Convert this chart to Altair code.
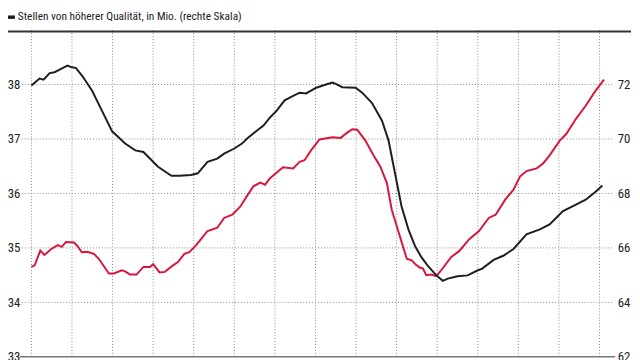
import altair as alt
import pandas as pd

# ---- data (x = years since start of series, y = millions) ----
red_t = [0.00, 0.08, 0.22, 0.32, 0.49, 0.65, 0.75, 0.85, 1.05, 1.13, 1.24, 1.38, 1.54, 1.66,
         1.91, 2.03, 2.23, 2.31, 2.43, 2.59, 2.76, 2.92, 3.00, 3.16, 3.29, 3.49, 3.61, 3.77,
         3.89, 4.05, 4.18, 4.34, 4.58, 4.75, 4.95, 5.15, 5.31, 5.47, 5.64, 5.76, 5.88, 6.20,
         6.45, 6.61, 6.73, 6.89, 7.10, 7.42, 7.62, 7.79, 7.91, 8.03, 8.23, 8.43, 8.60, 8.76,
         8.88, 9.04, 9.25, 9.37, 9.45, 9.57, 9.65, 9.73, 9.85, 9.98, 10.10, 10.34, 10.54,
         10.79, 11.03, 11.27, 11.44, 11.68, 11.88, 12.04, 12.20, 12.45, 12.61, 12.77, 13.02,
         13.18, 13.42, 13.66, 13.87, 14.11]
red_v = [34.65, 34.68, 34.95, 34.87, 34.98, 35.05, 35.02, 35.11, 35.10, 35.04, 34.92, 34.93,
         34.89, 34.80, 34.53, 34.53, 34.59, 34.57, 34.51, 34.51, 34.65, 34.65, 34.70, 34.55,
         34.56, 34.68, 34.74, 34.89, 34.92, 35.04, 35.16, 35.31, 35.37, 35.55, 35.61, 35.76,
         35.95, 36.13, 36.20, 36.16, 36.28, 36.48, 36.46, 36.58, 36.61, 36.79, 36.99, 37.03,
         37.02, 37.12, 37.18, 37.17, 36.97, 36.70, 36.49, 36.19, 35.70, 35.31, 34.80, 34.77,
         34.71, 34.64, 34.62, 34.50, 34.51, 34.48, 34.59, 34.83, 34.94, 35.16, 35.31, 35.55,
         35.61, 35.89, 36.07, 36.31, 36.41, 36.46, 36.55, 36.70, 36.97, 37.09, 37.37, 37.61,
         37.85, 38.09]

black_t = [0.00, 0.08, 0.20, 0.30, 0.45, 0.57, 0.73, 0.89, 0.98, 1.10, 1.26, 1.50, 1.74, 1.99,
           2.31, 2.56, 2.76, 2.92, 3.12, 3.45, 3.65, 3.93, 4.10, 4.34, 4.58, 4.75, 4.99, 5.19,
           5.31, 5.56, 5.72, 5.88, 6.04, 6.24, 6.45, 6.61, 6.77, 7.02, 7.26, 7.42, 7.50, 7.66,
           7.99, 8.15, 8.39, 8.64, 8.80, 8.96, 9.12, 9.29, 9.45, 9.61, 9.77, 9.98, 10.14, 10.26,
           10.50, 10.75, 10.99, 11.11, 11.39, 11.64, 11.88, 12.20, 12.53, 12.77, 13.10, 13.42,
           13.66, 13.91, 14.07]
black_v = [71.96, 72.06, 72.22, 72.18, 72.42, 72.45, 72.57, 72.69, 72.64, 72.60, 72.30, 71.76,
           71.03, 70.28, 69.83, 69.58, 69.52, 69.28, 68.98, 68.65, 68.65, 68.68, 68.74, 69.16,
           69.28, 69.46, 69.64, 69.83, 70.01, 70.31, 70.49, 70.79, 71.03, 71.42, 71.58, 71.70,
           71.67, 71.88, 72.00, 72.07, 72.02, 71.90, 71.88, 71.70, 71.33, 70.67, 69.95, 68.74,
           67.53, 66.68, 66.08, 65.66, 65.34, 64.99, 64.79, 64.87, 64.96, 64.99, 65.17, 65.24,
           65.56, 65.72, 65.96, 66.50, 66.68, 66.86, 67.35, 67.59, 67.77, 68.07, 68.29]

left_ticks = [33, 34, 35, 36, 37, 38]
right_ticks = [62, 64, 66, 68, 70, 72]
grid_left = [34, 35, 36, 37, 38]
year_grid = list(range(0, 15))
legend_labels = ["Stellen von niedriger Qualität, in Mio.",
                 "Stellen von höherer Qualität, in Mio. (rechte Skala)"]

RED = "#d6183c"
BLACK = "#1e1e1e"
FONT = "Liberation Sans Narrow, Roboto Condensed, DejaVu Sans Condensed, sans-serif"
W, H = 599, 331

red_df = pd.DataFrame({"t": red_t, "v": red_v})
black_df = pd.DataFrame({"t": black_t, "v": black_v})
vgrid_df = pd.DataFrame({"g": year_grid})
hgrid_df = pd.DataFrame({"g": grid_left})
one = pd.DataFrame({"a": [0]})

xscale = alt.Scale(domain=[-0.236, 14.338], nice=False, zero=False)
lscale = alt.Scale(domain=[33, 39], nice=False, zero=False)
rscale = alt.Scale(domain=[62, 74], nice=False, zero=False)

vgrid = alt.Chart(vgrid_df).mark_rule(color="#888", strokeWidth=1, strokeDash=[1, 2]).encode(
    x=alt.X("g:Q", scale=xscale, axis=None), y=alt.value(0), y2=alt.value(H))

hgrid = alt.Chart(hgrid_df).mark_rule(color="#888", strokeWidth=1, strokeDash=[1, 2]).encode(
    y=alt.Y("g:Q", scale=lscale, axis=None), x=alt.value(0), x2=alt.value(W))

bottom_rule = alt.Chart(one).mark_rule(color="#777", strokeWidth=1.5).encode(
    x=alt.value(-2), x2=alt.value(W + 2), y=alt.value(H))

red = alt.Chart(red_df).mark_line(color=RED, strokeWidth=2).encode(
    x=alt.X("t:Q", scale=xscale, axis=None),
    y=alt.Y("v:Q", scale=lscale,
            axis=alt.Axis(values=left_ticks, orient="left", title=None, ticks=False,
                          domain=False, grid=False,
                          labelFont=FONT, labelFontSize=13, labelColor="#222",
                          labelPadding=2)),
)

black = alt.Chart(black_df).mark_line(color=BLACK, strokeWidth=2).encode(
    x=alt.X("t:Q", scale=xscale, axis=None),
    y=alt.Y("v:Q", scale=rscale,
            axis=alt.Axis(values=right_ticks, orient="right", title=None, ticks=False,
                          domain=False, grid=False, labelFont=FONT, labelFontSize=13,
                          labelColor="#222", labelPadding=4)),
)

top_rule = alt.Chart(one).mark_rule(color="#333", strokeWidth=2).encode(
    x=alt.value(-14), x2=alt.value(W + 18), y=alt.value(1.5))

leg_sym1 = alt.Chart(one).mark_rule(color=RED, strokeWidth=3.5).encode(
    x=alt.value(-14), x2=alt.value(-7), y=alt.value(-27))
leg_txt1 = alt.Chart(one).mark_text(align="left", baseline="middle", font=FONT,
                                    fontSize=11.5, color="#222").encode(
    x=alt.value(-4), y=alt.value(-27), text=alt.value(legend_labels[0]))
leg_sym2 = alt.Chart(one).mark_rule(color=BLACK, strokeWidth=3.5).encode(
    x=alt.value(-14), x2=alt.value(-7), y=alt.value(-13))
leg_txt2 = alt.Chart(one).mark_text(align="left", baseline="middle", font=FONT,
                                    fontSize=11.5, color="#222").encode(
    x=alt.value(-4), y=alt.value(-13), text=alt.value(legend_labels[1]))

chart = alt.layer(vgrid, hgrid, bottom_rule, red, black, top_rule,
                  leg_sym1, leg_txt1, leg_sym2, leg_txt2).resolve_scale(
    y="independent"
).properties(
    width=W, height=H,
    autosize=alt.AutoSizeParams(type="none"),
    padding={"left": 14, "top": 20, "right": 19, "bottom": 8},
    background="white",
).configure_view(stroke=None)

chart.save("out.html", embed_options={"renderer": "svg", "actions": False})
